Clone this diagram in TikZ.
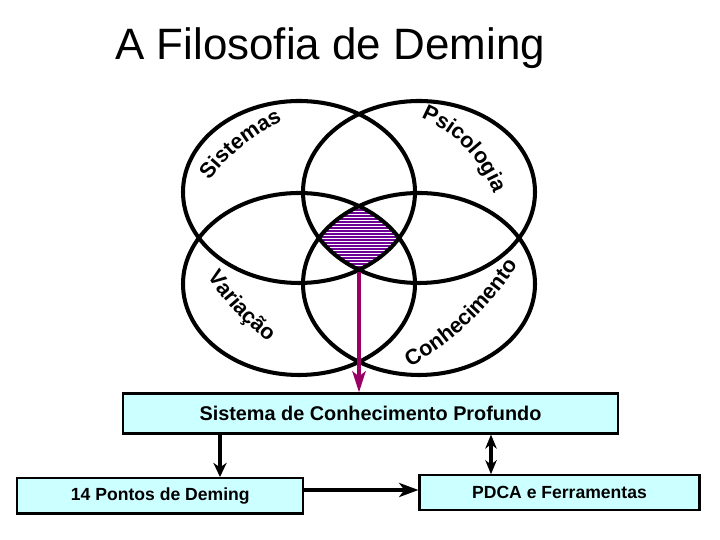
\documentclass[tikz,border=0pt]{standalone}
\usepackage{fontspec}
\setmainfont{Liberation Sans}
\usetikzlibrary{arrows.meta, positioning, decorations.text, calc}

\definecolor{boxcyan}{RGB}{204,255,255}
\definecolor{magline}{RGB}{153,0,102}
\definecolor{hatch}{RGB}{110,0,150}

\newcommand{\arcfont}{\fontsize{12.3}{14}\selectfont\bfseries}

\begin{document}
\begin{tikzpicture}[x=0.02cm, y=0.02cm,
  ring/.style={line width=2.3pt},
  kbox/.style={draw, line width=1.2pt, fill=boxcyan, inner sep=0pt, font=\bfseries\fontsize{10}{12}\selectfont},
  blkarrow/.style={line width=2.4pt, -{Stealth[length=8pt, width=7.5pt, inset=2.5pt]}},
  dblarrow/.style={line width=2.4pt, {Stealth[length=8pt, width=6.5pt, inset=2.5pt]}-{Stealth[length=8pt, width=6.5pt, inset=2.5pt]}},
  magarrow/.style={magline, line width=2.6pt, -{Stealth[length=12pt, width=7.5pt, inset=3pt]}},
  arclabel/.style={decorate, decoration={text along path, text align=center, text={|\arcfont|#1}}}]
\useasboundingbox[fill=white] (0,0) rectangle (720,540);

% Title
\node[anchor=base west, inner sep=0pt, font=\fontsize{25}{30}\selectfont] (title) at (115,480) {A Filosofia de Deming};

% Shaded core where all four areas meet
\begin{scope}
  \clip (299,348) ellipse [x radius=116, y radius=91];
  \clip (419,348) ellipse [x radius=116, y radius=91];
  \clip (299,256) ellipse [x radius=116, y radius=91];
  \clip (419,256) ellipse [x radius=116, y radius=91];
  \foreach \yy in {264,267,...,340}
    \draw[hatch, line width=0.8pt] (300,\yy) -- (420,\yy);
\end{scope}

% The four areas of knowledge
\draw[ring] (299,348) ellipse [x radius=116, y radius=91];
\draw[ring] (419,348) ellipse [x radius=116, y radius=91];
\draw[ring] (299,256) ellipse [x radius=116, y radius=91];
\draw[ring] (419,256) ellipse [x radius=116, y radius=91];

% Curved labels
\path[arclabel=Sistemas] (198,344) to[bend left=16] (300,427);
\path[arclabel=Psicologia] (405,428) to[bend left=28] (499,330);
\path[arclabel=Variação] (197,279) to[bend right=10] (283,186);
\path[arclabel=Conhecimento] (402,168) to[bend right=13] (524,283);

% Boxes
\node[kbox, minimum width=9.9cm, minimum height=0.8cm, font=\bfseries\fontsize{11.3}{13}\selectfont] (spk) at (370.5,126.5) {Sistema de Conhecimento Profundo};
\node[kbox, minimum width=5.72cm, minimum height=0.71cm] (pontos) at (160.3,44.2) {14 Pontos de Deming};
\node[kbox, minimum width=5.6cm, minimum height=0.7cm] (pdca) at (559.5,47.2) {PDCA e Ferramentas};

% Connectors
\coordinate (core) at (359,268);
\coordinate (dn) at (220,0);
\coordinate (up) at (491,0);
\coordinate (mid) at (0,50);
\draw[magarrow] (core) -- (core |- spk.north);
\draw[blkarrow] (dn |- spk.south) -- (dn |- pontos.north);
\draw[blkarrow, -{Stealth[length=11pt, width=8pt, inset=3pt]}] (pontos.east |- mid) -- (pdca.west |- mid);
\draw[dblarrow] (up |- spk.south) -- (up |- pdca.north);
\end{tikzpicture}
\end{document}
